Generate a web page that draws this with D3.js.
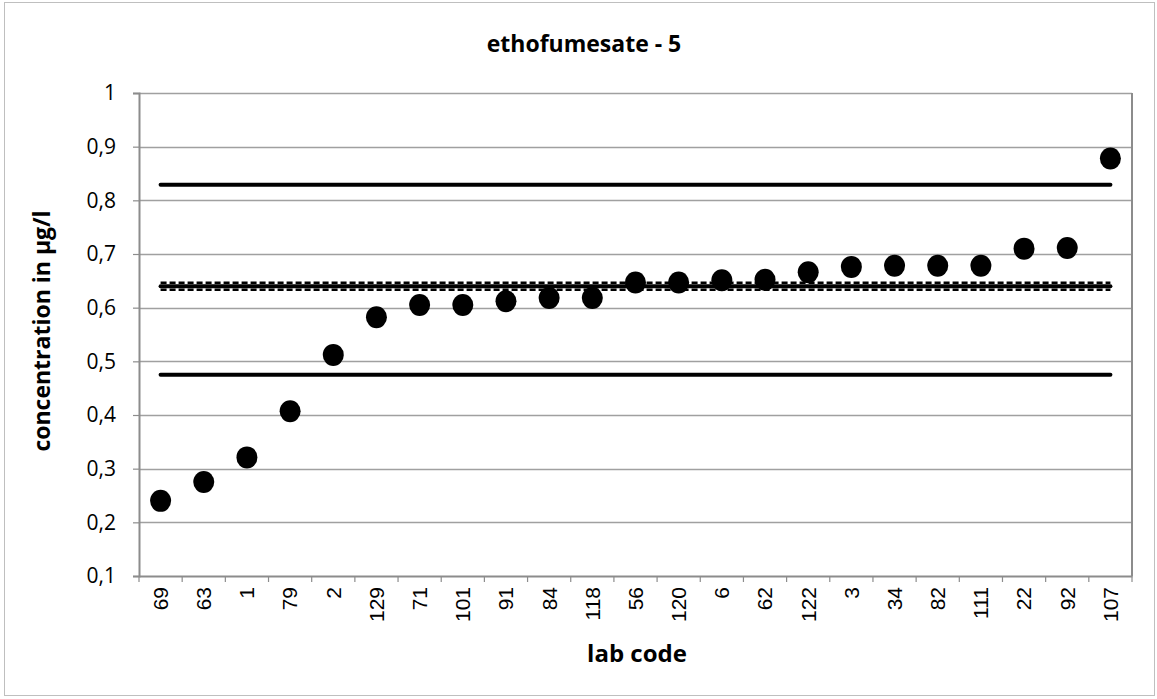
<!DOCTYPE html>
<html>
<head>
<meta charset="utf-8">
<script src="https://cdn.jsdelivr.net/npm/d3@7"></script>
<style>
    body { margin: 0; background: #fff; }
    svg { display: block; }
</style>
</head>
<body>
<svg id="chart" width="1157" height="699"></svg>
<script>
let labs = ["69", "63", "1", "79", "2", "129", "71", "101", "91", "84", "118", "56",
    "120", "6", "62", "122", "3", "34", "82", "111", "22", "92", "107"];
let values = [0.240, 0.275, 0.321, 0.407, 0.512, 0.582, 0.605, 0.605, 0.612, 0.618, 0.618, 0.647,
    0.647, 0.651, 0.652, 0.666, 0.676, 0.678, 0.678, 0.678, 0.710, 0.711, 0.878];
let solid_limits = [0.829, 0.640, 0.475];
let dashed_limits = [0.6465, 0.6335];
let y_ticks = [0.1, 0.2, 0.3, 0.4, 0.5, 0.6, 0.7, 0.8, 0.9, 1];

let margin = { top: 93, right: 25, bottom: 123, left: 139 };
let width = 1157, height = 699;
let svg = d3.select("#chart");

let x = d3.scaleBand()
    .domain(labs)
    .range([margin.left, width - margin.right]);
let y = d3.scaleLinear()
    .domain([0.1, 1])
    .range([height - margin.bottom, margin.top]);

// outer frame
svg.append("rect")
    .attr("x", 4.5).attr("y", 2.5)
    .attr("width", 1150).attr("height", 693)
    .attr("fill", "none")
    .attr("stroke", "#bfbfbf")
    .attr("stroke-width", 1);

// gridlines
svg.append("g")
    .selectAll("line")
    .data(y_ticks.slice(1)).enter()
    .append("line")
    .attr("x1", margin.left).attr("x2", width - margin.right)
    .attr("y1", d => Math.round(y(d)) + 0.5).attr("y2", d => Math.round(y(d)) + 0.5)
    .attr("stroke", "#a0a0a0")
    .attr("stroke-width", 1.3);

// right border of plot
svg.append("line")
    .attr("x1", width - margin.right).attr("x2", width - margin.right)
    .attr("y1", margin.top).attr("y2", height - margin.bottom)
    .attr("stroke", "#8c8c8c").attr("stroke-width", 2);

// axes
let fmt = d => d3.format(".1f")(d).replace(".", ",").replace(/^1,0$/, "1");
let y_axis = d3.axisLeft(y).tickValues(y_ticks).tickSize(6).tickFormat(fmt);
let gy = svg.append("g")
    .attr("transform", `translate(${margin.left}, 0)`)
    .call(y_axis);
gy.select(".domain").attr("stroke", "#8c8c8c").attr("stroke-width", 2);
gy.selectAll(".tick line").attr("stroke", "#8c8c8c").attr("stroke-width", 1.2);
gy.selectAll(".tick text")
    .attr("x", -23)
    .style("font-family", "'Open Sans', sans-serif")
    .style("font-size", "21px")
    .attr("fill", "#000");

let x_axis = d3.axisBottom(x).tickSize(0).tickSizeOuter(0);
let gx = svg.append("g")
    .attr("transform", `translate(0, ${height - margin.bottom})`)
    .call(x_axis);
gx.select(".domain").attr("stroke", "#8c8c8c").attr("stroke-width", 2);
gx.selectAll(".tick text")
    .attr("transform", "rotate(-90)")
    .attr("x", -11).attr("y", 0).attr("dy", "0.35em")
    .attr("text-anchor", "end")
    .style("font-family", "'Liberation Sans', Arial, sans-serif")
    .style("font-size", "21px")
    .attr("fill", "#000");

// category boundary tick marks
svg.append("g")
    .selectAll("line")
    .data(labs.concat(["end"])).enter()
    .append("line")
    .attr("x1", (d, i) => margin.left + i * x.bandwidth())
    .attr("x2", (d, i) => margin.left + i * x.bandwidth())
    .attr("y1", height - margin.bottom)
    .attr("y2", height - margin.bottom + 6)
    .attr("stroke", "#8c8c8c").attr("stroke-width", 1.2);

let x0 = x(labs[0]) + x.bandwidth() / 2;
let x1 = x(labs[labs.length - 1]) + x.bandwidth() / 2;

// limit lines
svg.append("g")
    .selectAll("line")
    .data(solid_limits).enter()
    .append("line")
    .attr("x1", x0).attr("x2", x1)
    .attr("y1", d => y(d)).attr("y2", d => y(d))
    .attr("stroke", "#000")
    .attr("stroke-width", 4)
    .attr("stroke-linecap", "round");

svg.append("g")
    .selectAll("line")
    .data(dashed_limits).enter()
    .append("line")
    .attr("x1", x0).attr("x2", x1)
    .attr("y1", d => y(d)).attr("y2", d => y(d))
    .attr("stroke", "#000")
    .attr("stroke-width", 2.6)
    .attr("stroke-dasharray", "6,3");

// points
svg.append("g")
    .selectAll("ellipse")
    .data(values).enter()
    .append("ellipse")
    .attr("cx", (d, i) => x(labs[i]) + x.bandwidth() / 2)
    .attr("cy", d => y(d))
    .attr("rx", 10.5)
    .attr("ry", 11)
    .attr("fill", "#000");

// titles
svg.append("text")
    .attr("x", 584).attr("y", 52)
    .attr("text-anchor", "middle")
    .style("font-family", "'Open Sans', sans-serif")
    .style("font-weight", "bold")
    .style("font-size", "23px")
    .text("ethofumesate - 5");

svg.append("text")
    .attr("x", 637).attr("y", 662)
    .attr("text-anchor", "middle")
    .style("font-family", "'Open Sans', sans-serif")
    .style("font-weight", "bold")
    .style("font-size", "24px")
    .text("lab code");

svg.append("text")
    .attr("transform", "translate(50, 331) rotate(-90)")
    .attr("text-anchor", "middle")
    .style("font-family", "'Open Sans', sans-serif")
    .style("font-weight", "bold")
    .style("font-size", "23px")
    .text("concentration in µg/l");
</script>
</body>
</html>
